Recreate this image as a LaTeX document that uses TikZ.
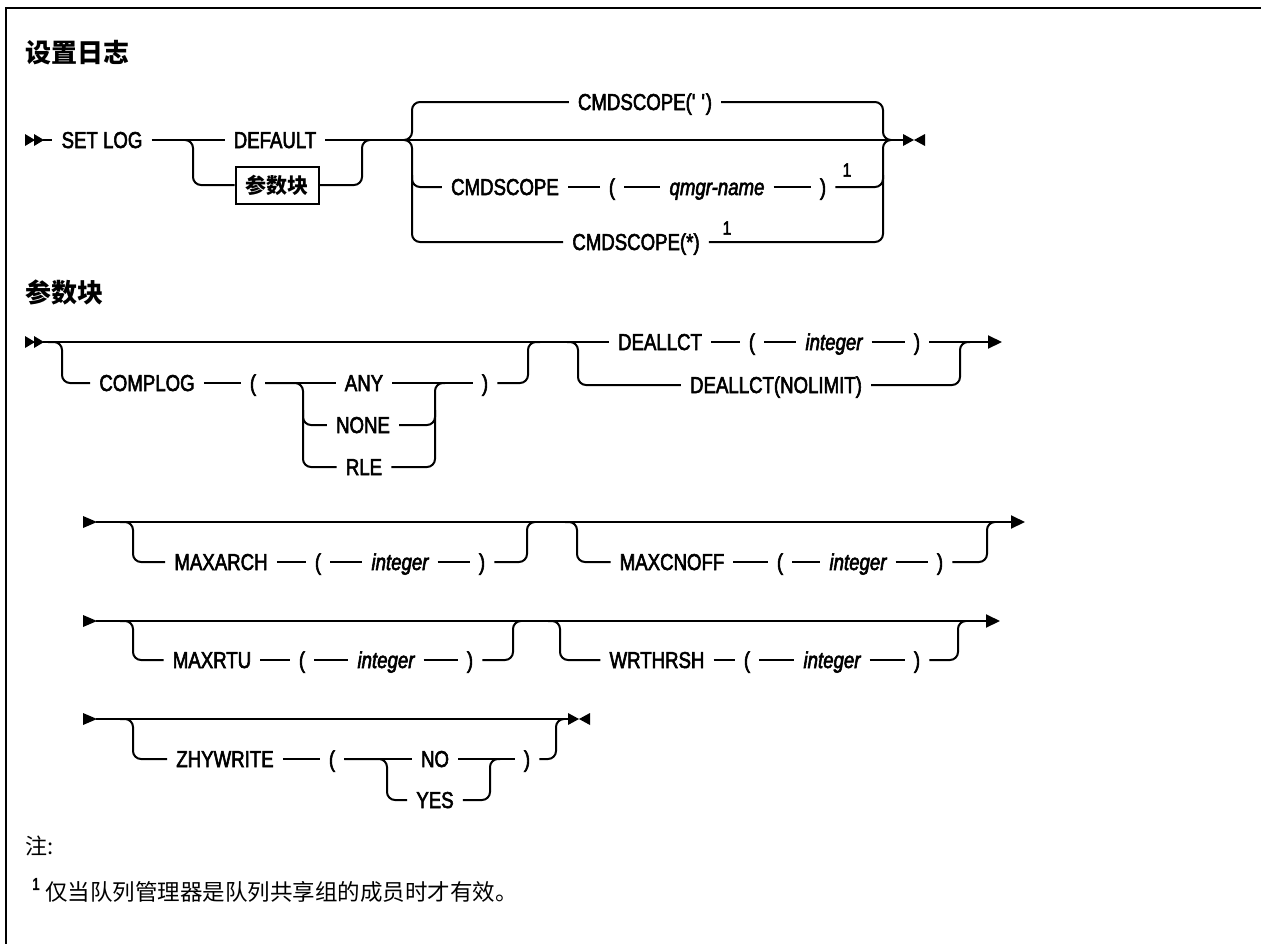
\documentclass[tikz,border=0pt]{standalone}
\usepackage{fontspec}
\setmainfont[FakeStretch=0.81,FakeBold=2.5]{Liberation Sans}
\newfontfamily\cjk{Noto Sans CJK SC}
\usepackage{tikz}
\usetikzlibrary{arrows.meta,positioning}
\tikzset{
  tok/.style={inner xsep=9pt, inner ysep=0pt, text height=16pt, text depth=0pt,
              font=\fontsize{23}{26}\selectfont},
  var/.style={tok, font=\fontsize{23}{26}\selectfont\itshape},
  ln/.style={line width=2pt, rounded corners=8pt},
  fin/.style={ln, -{Triangle[length=14pt,width=13pt]}}
}
\begin{document}
\begin{tikzpicture}[
  x=1pt, y=-1pt,
  ttl/.style={anchor=west, inner sep=0pt, font=\cjk\bfseries\fontsize{26}{28}\selectfont},
  blkbox/.style={draw, line width=2pt, minimum width=83pt, minimum height=37pt,
                 inner sep=0pt, font=\cjk\bfseries\fontsize{21}{24}\selectfont},
  sup/.style={inner sep=0pt, font=\fontsize{19}{20}\selectfont},
  note/.style={anchor=west, inner sep=0pt, font=\cjk\fontsize{22}{24}\selectfont},
  mk/.style={fill=black}
]
\useasboundingbox (0,0) rectangle (1261,943);
\draw[line width=2.7pt] (6,960) -- (6,8) -- (1280,8);
% ---- 设置日志 ----
\node[ttl] (t1) at (25,53) {设置日志};
\fill[mk] (25,134) -- (35,140) -- (25,146) -- cycle;
\fill[mk] (34,134) -- (44,140) -- (34,146) -- cycle;
\coordinate (s1) at (43,140);
\coordinate (e1) at (903,140);
\node[tok] (setlog) at (102,140) {SET LOG};
\node[tok] (dflt) at (275,140) {DEFAULT};
\node[blkbox] (blk) at (277,185) {参数块};
\draw[ln] (s1) -- (setlog);
\draw[ln] (setlog) -- (dflt);
\draw[ln] (dflt) -- (e1);
\draw[ln] (185,140) -- (193,140) -- (193,185) -- (blk);
\draw[ln] (blk) -- (362,185) -- (362,140) -- (370,140);
\fill[mk] (903,134) -- (914,140) -- (903,146) -- cycle;
\fill[mk] (925,134) -- (914,140) -- (925,146) -- cycle;
% CMDSCOPE choice
\node[tok] (cs1) at (645,102) {CMDSCOPE(\textquotesingle{} \textquotesingle)};
\node[tok] (cs2a) at (505,187) {CMDSCOPE};
\node[tok] (cs2b) at (612,187) {(};
\node[var] (cs2c) at (717,187) {qmgr-name};
\node[tok] (cs2d) at (823,187) {)};
\node[sup] (n1a) at (847,170) {1};
\node[tok] (cs3) at (636,242) {CMDSCOPE(*)};
\node[sup] (n1b) at (727,228) {1};
\draw[ln] (404,140) -- (412,140) -- (412,102) -- (cs1);
\draw[ln] (404,140) -- (412,140) -- (412,242) -- (cs3);
\draw[ln] (412,175) -- (412,187) -- (cs2a);
\draw[ln] (cs2a) -- (cs2b);
\draw[ln] (cs2b) -- (cs2c);
\draw[ln] (cs2c) -- (cs2d);
\draw[ln] (cs2d) -- (883,187) -- (883,175);
\draw[ln] (cs1) -- (883,102) -- (883,140) -- (891,140);
\draw[ln] (cs3) -- (883,242) -- (883,140) -- (891,140);
% ---- 参数块 ----
\node[ttl] (t2) at (25,292) {参数块};
\fill[mk] (25,336) -- (35,342) -- (25,348) -- cycle;
\fill[mk] (34,336) -- (44,342) -- (34,348) -- cycle;
\coordinate (s2) at (43,342);
\node[tok] (cpl) at (147,383) {COMPLOG};
\node[tok] (cplp) at (253,383) {(};
\node[tok] (any) at (364,383) {ANY};
\node[tok] (none) at (363,425) {NONE};
\node[tok] (rle) at (364,467) {RLE};
\node[tok] (cprp) at (485,383) {)};
\node[tok] (dl1) at (660,342) {DEALLCT};
\node[tok] (dl2) at (752,342) {(};
\node[var] (dl3) at (834,342) {integer};
\node[tok] (dl4) at (917,342) {)};
\node[tok] (dln) at (776,385) {DEALLCT(NOLIMIT)};
\draw[ln] (s2) -- (dl1);
\draw[ln] (48,342) -- (62,342) -- (62,383) -- (cpl);
\draw[ln] (cpl) -- (cplp);
\draw[ln] (cplp) -- (any);
\draw[ln] (cplp) -- (303,383) -- (303,467) -- (rle);
\draw[ln] (303,410) -- (303,425) -- (none);
\draw[ln] (any) -- (cprp);
\draw[ln] (none) -- (435,425) -- (435,410);
\draw[ln] (rle) -- (435,467) -- (435,383) -- (445,383);
\draw[ln] (cprp) -- (528,383) -- (528,342) -- (540,342);
\draw[ln] (dl1) -- (dl2);
\draw[ln] (dl2) -- (dl3);
\draw[ln] (dl3) -- (dl4);
\draw[fin] (dl4) -- (1002,342);
\draw[ln] (567,342) -- (578,342) -- (578,385) -- (dln);
\draw[ln] (dln) -- (960,385) -- (960,342) -- (970,342);
% row: MAXARCH / MAXCNOFF
\fill[mk] (83,516) -- (97,522) -- (83,528) -- cycle;
\coordinate (s3) at (96,522);
\node[tok] (ma1) at (221,562) {MAXARCH};
\node[tok] (ma2) at (318,562) {(};
\node[var] (ma3) at (400,562) {integer};
\node[tok] (ma4) at (482,562) {)};
\node[tok] (mc1) at (672,562) {MAXCNOFF};
\node[tok] (mc2) at (780,562) {(};
\node[var] (mc3) at (858,562) {integer};
\node[tok] (mc4) at (940,562) {)};
\draw[fin] (s3) -- (1025,522);
\draw[ln] (120,522) -- (133,522) -- (133,562) -- (ma1);
\draw[ln] (ma1) -- (ma2);
\draw[ln] (ma2) -- (ma3);
\draw[ln] (ma3) -- (ma4);
\draw[ln] (ma4) -- (527,562) -- (527,522) -- (535,522);
\draw[ln] (565,522) -- (577,522) -- (577,562) -- (mc1);
\draw[ln] (mc1) -- (mc2);
\draw[ln] (mc2) -- (mc3);
\draw[ln] (mc3) -- (mc4);
\draw[ln] (mc4) -- (987,562) -- (987,522) -- (995,522);
% row: MAXRTU / WRTHRSH
\fill[mk] (83,615) -- (97,621) -- (83,627) -- cycle;
\coordinate (s4) at (96,621);
\node[tok] (mr1) at (212,660) {MAXRTU};
\node[tok] (mr2) at (302,660) {(};
\node[var] (mr3) at (386,660) {integer};
\node[tok] (mr4) at (470,660) {)};
\node[tok] (wr1) at (657,660) {WRTHRSH};
\node[tok] (wr2) at (747,660) {(};
\node[var] (wr3) at (832,660) {integer};
\node[tok] (wr4) at (917,660) {)};
\draw[fin] (s4) -- (1000,621);
\draw[ln] (120,621) -- (133,621) -- (133,660) -- (mr1);
\draw[ln] (mr1) -- (mr2);
\draw[ln] (mr2) -- (mr3);
\draw[ln] (mr3) -- (mr4);
\draw[ln] (mr4) -- (513,660) -- (513,621) -- (521,621);
\draw[ln] (548,621) -- (560,621) -- (560,660) -- (wr1);
\draw[ln] (wr1) -- (wr2);
\draw[ln] (wr2) -- (wr3);
\draw[ln] (wr3) -- (wr4);
\draw[ln] (wr4) -- (958,660) -- (958,621) -- (966,621);
% row: ZHYWRITE
\fill[mk] (83,713) -- (97,719) -- (83,725) -- cycle;
\coordinate (s5) at (96,719);
\coordinate (e5) at (568,719);
\node[tok] (zw1) at (225,759) {ZHYWRITE};
\node[tok] (zw2) at (332,759) {(};
\node[tok] (no) at (435,759) {NO};
\node[tok] (yes) at (435,800) {YES};
\node[tok] (zw3) at (527,759) {)};
\draw[ln] (s5) -- (e5);
\draw[ln] (120,719) -- (133,719) -- (133,759) -- (zw1);
\draw[ln] (zw1) -- (zw2);
\draw[ln] (zw2) -- (no);
\draw[ln] (zw2) -- (387,759) -- (387,800) -- (yes);
\draw[ln] (no) -- (zw3);
\draw[ln] (yes) -- (490,800) -- (490,759) -- (500,759);
\draw[ln] (zw3) -- (556,759) -- (556,719) -- (564,719);
\fill[mk] (568,713) -- (579,719) -- (568,725) -- cycle;
\fill[mk] (590,713) -- (579,719) -- (590,725) -- cycle;
% ---- notes ----
\node[note] (zhu) at (25,846) {注:};
\node[sup, font=\fontsize{17}{18}\selectfont] (fn1) at (36,884) {1};
\node[note, font=\cjk\fontsize{22.5}{24}\selectfont] (fn) at (45,892) {仅当队列管理器是队列共享组的成员时才有效。};
\end{tikzpicture}
\end{document}
